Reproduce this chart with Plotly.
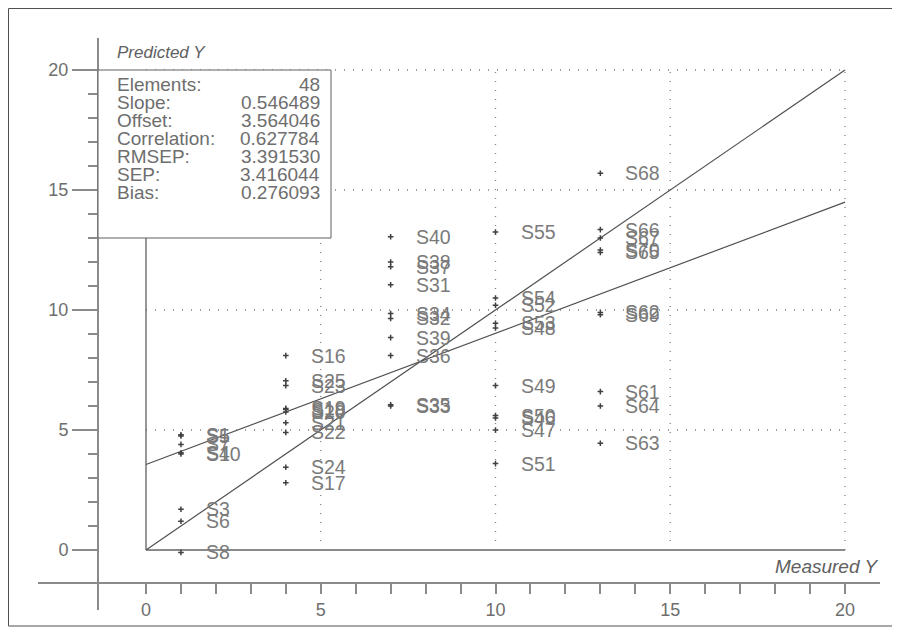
import plotly.graph_objects as go

# ---------------- data ----------------
labels = ["S1", "S5", "S7", "S4", "S10", "S3", "S6", "S8",
          "S16", "S25", "S23", "S19", "S18", "S20", "S21", "S22", "S24", "S17",
          "S40", "S38", "S37", "S31", "S34", "S32", "S39", "S36", "S35", "S33",
          "S55", "S54", "S52", "S53", "S48", "S49", "S50", "S46", "S47", "S51",
          "S68", "S66", "S67", "S70", "S65", "S62", "S69", "S61", "S64", "S63"]
measured = [1, 1, 1, 1, 1, 1, 1, 1,
            4, 4, 4, 4, 4, 4, 4, 4, 4, 4,
            7, 7, 7, 7, 7, 7, 7, 7, 7, 7,
            10, 10, 10, 10, 10, 10, 10, 10, 10, 10,
            13, 13, 13, 13, 13, 13, 13, 13, 13, 13]
predicted = [4.8, 4.75, 4.4, 4.05, 4.0, 1.7, 1.2, -0.1,
             8.1, 7.05, 6.85, 5.9, 5.85, 5.75, 5.3, 4.9, 3.45, 2.8,
             13.05, 12.0, 11.8, 11.05, 9.85, 9.65, 8.85, 8.1, 6.05, 6.0,
             13.25, 10.5, 10.2, 9.45, 9.25, 6.85, 5.6, 5.5, 5.0, 3.6,
             15.7, 13.35, 13.0, 12.5, 12.4, 9.9, 9.8, 6.6, 6.0, 4.45]

stat_names = ["Elements:", "Slope:", "Offset:", "Correlation:", "RMSEP:", "SEP:", "Bias:"]
stat_values = ["48", "0.546489", "3.564046", "0.627784", "3.391530", "3.416044", "0.276093"]
slope = 0.546489
offset = 3.564046
line_x = [0, 20]
major_ticks = [0, 5, 10, 15, 20]
minor_ticks = list(range(0, 21))

# ---------------- layout geometry ----------------
# target positions are given in screen pixels; the page body adds an 8px offset
W, H = 900, 634
O = 8
L = 98 - O
T = 38 - O
B = H - (583 - O)
R = W - (880 - O)
PW, PH = W - L - R, H - T - B


def px(sx):
    return (sx - O - L) / PW


def py(sy):
    return (H - B - (sy - O)) / PH


FONT = "Liberation Sans, Arial, sans-serif"
TXT = "#6e6e6e"
DARK = "#505050"

fig = go.Figure()

# fit line and identity line
fig.add_trace(go.Scatter(x=line_x, y=[slope * v + offset for v in line_x], mode="lines",
                         line=dict(color=DARK, width=1.2), hoverinfo="skip", showlegend=False))
fig.add_trace(go.Scatter(x=line_x, y=line_x, mode="lines",
                         line=dict(color=DARK, width=1.2), hoverinfo="skip", showlegend=False))

# points
fig.add_trace(go.Scatter(x=measured, y=predicted, mode="markers",
                         marker=dict(symbol="cross-thin", size=4, line=dict(color="#404040", width=1.5)),
                         text=labels, showlegend=False))

shapes = []
# dotted grid
for v in [5, 10, 15, 20]:
    shapes.append(dict(type="line", xref="x", yref="y", x0=v, x1=v, y0=0, y1=20, layer="below",
                       line=dict(color="#808080", width=1.3, dash="1px,8px")))
    shapes.append(dict(type="line", xref="x", yref="y", x0=0, x1=20, y0=v, y1=v, layer="below",
                       line=dict(color="#808080", width=1.3, dash="1px,8px")))
# inner zero lines
shapes.append(dict(type="line", xref="x", yref="y", x0=0, x1=20, y0=0, y1=0, layer="below",
                   line=dict(color="#8a8a8a", width=2)))
shapes.append(dict(type="line", xref="x", yref="y", x0=0, x1=0, y0=0, y1=20, layer="below",
                   line=dict(color="#606060", width=1.3)))
# main axes lines (extend past the crossing)
shapes.append(dict(type="line", xref="paper", yref="paper", x0=px(38), x1=px(880), y0=py(583), y1=py(583),
                   line=dict(color="#8a8a8a", width=2)))
shapes.append(dict(type="line", xref="paper", yref="paper", x0=px(98), x1=px(98), y0=py(38), y1=py(610),
                   line=dict(color="#8a8a8a", width=2)))
# stats box
shapes.append(dict(type="rect", xref="paper", yref="paper", x0=px(98), x1=px(331), y0=py(238), y1=py(70),
                   fillcolor="white", line=dict(color="#606060", width=1), layer="above"))
# outer frame
shapes.append(dict(type="rect", xref="paper", yref="paper", x0=px(8.5), x1=px(893), y0=py(626), y1=py(8.5),
                   line=dict(color="#505050", width=1)))

annotations = []
for xv, yv, lab in zip(measured, predicted, labels):
    annotations.append(dict(x=xv, y=yv, xref="x", yref="y", text=lab, showarrow=False,
                            xanchor="left", yanchor="middle", xshift=23,
                            font=dict(family=FONT, size=19.5, color="#7a7a7a")))
for i, (n, v) in enumerate(zip(stat_names, stat_values)):
    yy = py(84 + 18.0 * i)
    annotations.append(dict(x=px(115), y=yy, xref="paper", yref="paper", text=n, showarrow=False,
                            xanchor="left", yanchor="middle", font=dict(family=FONT, size=19, color=TXT)))
    annotations.append(dict(x=px(322), y=yy, xref="paper", yref="paper", text=v, showarrow=False,
                            xanchor="right", yanchor="middle", font=dict(family=FONT, size=19, color=TXT)))
annotations.append(dict(x=px(115), y=py(52), xref="paper", yref="paper", text="<i>Predicted Y</i>",
                        showarrow=False, xanchor="left", yanchor="middle",
                        font=dict(family=FONT, size=17, color="#606060")))
annotations.append(dict(x=px(880), y=py(566), xref="paper", yref="paper", text="<i>Measured Y</i>",
                        showarrow=False, xanchor="right", yanchor="middle",
                        font=dict(family=FONT, size=19, color="#606060")))

fig.update_layout(
    width=W, height=H, autosize=False,
    margin=dict(l=L, r=R, t=T, b=B, pad=0),
    paper_bgcolor="white", plot_bgcolor="white",
    shapes=shapes, annotations=annotations,
    xaxis=dict(range=[(98 - 146) / 34.95, (880 - 146) / 34.95], showgrid=False, zeroline=False,
               showline=False, ticks="outside", ticklen=10, tickwidth=1.5, tickcolor="#8a8a8a",
               tickvals=major_ticks, ticktext=[str(t) for t in major_ticks],
               minor=dict(tickvals=minor_ticks, ticks="outside", ticklen=10, tickwidth=1.5, tickcolor="#8a8a8a"),
               tickfont=dict(family=FONT, size=18, color=TXT)),
    yaxis=dict(range=[(550 - 583) / 24.0, (550 - 38) / 24.0], showgrid=False, zeroline=False,
               showline=False, ticks="outside", ticklen=25, tickwidth=1.5, tickcolor="#8a8a8a",
               tickvals=major_ticks, ticktext=[str(t) for t in major_ticks],
               minor=dict(tickvals=minor_ticks, ticks="outside", ticklen=9, tickwidth=1.5, tickcolor="#8a8a8a"),
               tickfont=dict(family=FONT, size=18, color=TXT)),
    showlegend=False,
)

fig.write_html("out.html")
